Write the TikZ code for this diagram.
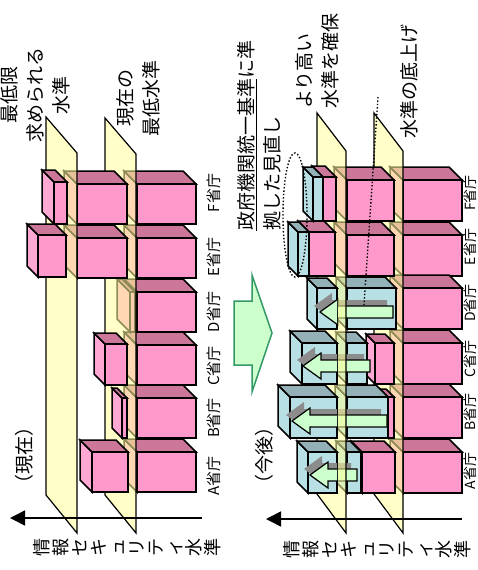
\documentclass[tikz,border=0pt]{standalone}
\usepackage{fontspec}
\newfontfamily\jpfont{Noto Sans CJK JP}
\usetikzlibrary{arrows.meta}
\definecolor{boxpink}{HTML}{FF99CC}
\definecolor{boxpinktop}{HTML}{CC7799}
\definecolor{boxpinkside}{HTML}{FFA8D4}
\definecolor{boxblue}{HTML}{B8E0E4}
\definecolor{boxbluetop}{HTML}{93B1B6}
\definecolor{planeyellow}{HTML}{FFFF99}
\definecolor{liftgreen}{HTML}{CCFFCC}
\definecolor{moveedge}{HTML}{339966}
\tikzset{
  edge/.style={draw=black, line width=1.5pt, line join=miter},
  pinkfront/.style={edge, fill=boxpink},
  pinktop/.style={edge, fill=boxpinktop},
  pinkside/.style={edge, fill=boxpinkside},
  bluefront/.style={edge, fill=boxblue},
  bluetop/.style={edge, fill=boxbluetop},
  blueside/.style={edge, fill=boxblue},
  plane/.style={draw=black, line width=1.2pt, fill=planeyellow, fill opacity=0.55},
  raise/.style={draw=black, line width=1.2pt, fill=liftgreen},
  shade/.style={fill=black!45},
  guide/.style={dotted, line width=1.4pt},
  axis/.style={line width=1.5pt, -{Triangle[length=15pt, width=15pt]}},
  move/.style={draw=moveedge, line width=1.5pt, fill=liftgreen, line join=miter},
  lbl/.style={font=\jpfont\fontsize{19}{26}\selectfont, rotate=90, inner sep=0pt},
  org/.style={font=\jpfont\fontsize{15}{18}\selectfont, rotate=90, inner sep=0pt},
  axtext/.style={font=\jpfont\fontsize{18}{19}\selectfont, rotate=90, align=center, inner sep=0pt},
  pics/cube/.style args={#1/#2/#3/#4/#5/#6}{code={
    \filldraw[#6side] (#1,#3) -- (#1-#5,#3-#5) -- (#1-#5,#4-#5) -- (#1,#4) -- cycle;
    \filldraw[#6top] (#1,#3) -- (#1-#5,#3-#5) -- (#2-#5,#3-#5) -- (#2,#3) -- cycle;
    \filldraw[#6front] (#1,#3) rectangle (#2,#4);
  }},
  pics/lift/.style args={#1/#2/#3}{code={
    \fill[shade] (#1-6,#3-6) -- (#1+12,#3-19) -- (#1+12,#3-12) -- (#2-6,#3-12) -- (#2-6,#3) -- (#1+12,#3) -- (#1+12,#3+7) -- cycle;
    \filldraw[raise] (#1,#3) -- (#1+18,#3-13) -- (#1+18,#3-6) -- (#2,#3-6) -- (#2,#3+6) -- (#1+18,#3+6) -- (#1+18,#3+13) -- cycle;
  }}
}
\begin{document}
\begin{tikzpicture}[x=1pt, y=-1pt]
  \useasboundingbox (0,0) rectangle (478,570);

  % current levels
  \foreach \ya in {184,238,292,345,398,452}
    \pic {cube=137/196/\ya/\ya+40/13/pink};
  \pic {cube=130/135/292/332/13/pink};
  \filldraw[plane] (105,118) -- (136,154) -- (136,533) -- (105,495) -- cycle;
  \foreach \xa/\xb/\ya/\yb/\dd in {77/127/184/224/13, 77/127/238/278/13, 105/127/344/385/11, 122/127/398/438/10, 92/128/452/492/12}
    \pic {cube=\xa/\xb/\ya/\yb/\dd/pink};
  \filldraw[plane] (46,117) -- (77,153) -- (77,533) -- (46,495) -- cycle;
  \pic {cube=54/67/182/224/12/pink};
  \pic {cube=38/66/235/277/11/pink};

  \coordinate (axLfrom) at (202,518);
  \coordinate (axLto) at (10,518);
  \draw[axis] (axLfrom) -- (axLto);
  \node[axtext] (axLtext) at (127,547) {情\\報\\セ\\キ\\ュ\\リ\\テ\\ィ\\水\\準};
  \node[lbl] (nowtag) at (24,455) {（現在）};
  \node[lbl, align=center] (needed) at (35,95) {最低限\\求められる\\水準};
  \node[lbl, align=center] (lowest) at (138,98) {現在の\\最低水準};
  \foreach \nm/\yy in {F/193, E/257, D/312, C/366, B/418, A/476}
    \node[org] (orgL\nm) at (214,\yy) {\nm 省庁};

  % shift
  \filldraw[move] (234,301) -- (252,301) -- (252,275) -- (272,333) -- (252,392) -- (252,365) -- (234,365) -- cycle;
  \node[lbl, align=left, anchor=west] (review) at (259,231) {\underline{政府機関統一基準}に準\\拠した見直し};

  % future levels
  \foreach \ya in {180,235,288,343,397,452}
    \pic {cube=403/462/\ya/\ya+41/13/pink};
  \filldraw[plane] (374,113) -- (403,151) -- (403,533) -- (374,494) -- cycle;
  \foreach \xa/\xb/\ya/\yb/\dd in {347/394/180/221/13, 347/394/235/276/13, 375/394/343/384/9, 388/394/397/438/8, 362/395/452/493/11}
    \pic {cube=\xa/\xb/\ya/\yb/\dd/pink};
  \foreach \xa/\xb/\ya/\yb/\dd in {347/396/288/329/11, 347/367/343/384/11, 347/388/397/438/12, 347/361/452/493/11}
    \pic {cube=\xa/\xb/\ya/\yb/\dd/blue};
  \foreach \tip/\tail/\mid in {320/393/312, 303/370/366, 292/387/421, 310/357/475}
    \pic {lift=\tip/\tail/\mid};
  \filldraw[plane] (317,113) -- (346,151) -- (346,533) -- (317,494) -- cycle;
  \pic {cube=323/336/177/221/11/pink};
  \pic {cube=309/335/232/276/11/pink};
  \pic {cube=313/323/177/221/10/blue};
  \pic {cube=298/309/232/276/10/blue};
  \foreach \xa/\xb/\ya/\yb/\dd in {317/337/288/329/10, 302/337/343/384/12, 290/337/397/438/12, 308/337/452/493/11}
    \pic {cube=\xa/\xb/\ya/\yb/\dd/blue};
  \begin{scope}
    \clip (0,0) rectangle (337,570);
    \foreach \tip/\tail/\mid in {320/393/312, 303/370/366, 292/387/421, 310/357/475}
      \pic {lift=\tip/\tail/\mid};
  \end{scope}

  \coordinate (rimC) at (295,215);
  \draw[guide] (rimC) ellipse [x radius=12, y radius=62];
  \coordinate (floorTop) at (378,97);
  \coordinate (floorEnd) at (364,305);
  \draw[guide] (floorTop) -- (floorEnd);

  \coordinate (axRfrom) at (462,519);
  \coordinate (axRto) at (266,519);
  \draw[axis] (axRfrom) -- (axRto);
  \node[axtext] (axRtext) at (377,549) {情\\報\\セ\\キ\\ュ\\リ\\テ\\ィ\\水\\準};
  \node[lbl] (latertag) at (264,455) {（今後）};
  \node[lbl, align=left, anchor=west] (higher) at (317,109) {より高い\\水準を確保};
  \node[lbl] (floorup) at (409,81) {水準の底上げ};
  \foreach \nm/\yy in {F/193, E/247, D/303, C/359, B/412, A/471}
    \node[org, font=\jpfont\fontsize{14}{16}\selectfont] (orgR\nm) at (470.5,\yy) {\nm 省庁};
\end{tikzpicture}
\end{document}
